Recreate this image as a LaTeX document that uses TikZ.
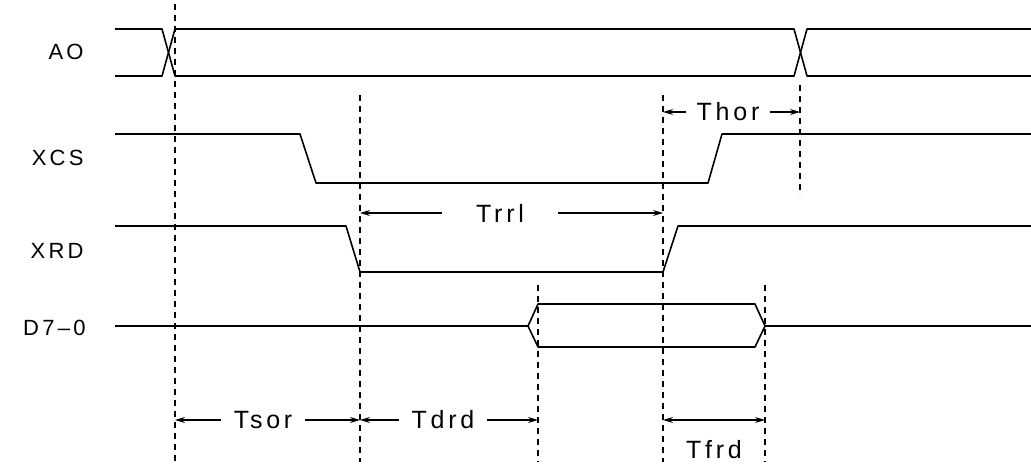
\documentclass[tikz,border=0pt]{standalone}
\usepackage{fontspec}
\setsansfont{Liberation Sans}[LetterSpace=15]
\usetikzlibrary{arrows.meta}

\begin{document}
\begin{tikzpicture}[x=0.5pt,y=-0.5pt,
  sig/.style={line width=0.8pt,line join=round},
  guide/.style={line width=0.6pt,dash pattern=on 3pt off 2.5pt},
  dim/.style={line width=0.6pt,-{Stealth[length=5pt,width=3pt]}},
  dimboth/.style={line width=0.6pt,{Stealth[length=5pt,width=3pt]}-{Stealth[length=5pt,width=3pt]}},
  lbl/.style={font=\sffamily\fontsize{11}{12}\selectfont,anchor=east,inner sep=0pt},
  tlbl/.style={font=\sffamily\fontsize{12.5}{14}\selectfont,inner ysep=0pt}]
\useasboundingbox (0,0) rectangle (1031,466);
\node[lbl] (ao) at (84,52) {AO};
\node[lbl] (xcs) at (84,158) {XCS};
\node[lbl] (xrd) at (84,251) {XRD};
\node[lbl] (d70) at (86,328) {D7–0};
\draw[sig] (115,29) -- (162,29) -- (175,76) -- (794,76) -- (807,29) -- (1031,29);
\draw[sig] (115,76) -- (162,76) -- (175,29) -- (794,29) -- (807,76) -- (1031,76);
\draw[sig] (115,134) -- (300,134) -- (316,183) -- (708,183) -- (722,134) -- (1031,134);
\draw[sig] (115,226) -- (346,226) -- (360,272) -- (663,272) -- (678,226) -- (1031,226);
\draw[sig] (115,326) -- (528,326) -- (538,304) -- (755,304) -- (765,326) -- (1031,326);
\draw[sig] (528,326) -- (538,347) -- (755,347) -- (765,326);
\foreach \n/\x/\t in {a/175/4,b/360/95,c/538/285,d/663/95,e/765/285}{
  \coordinate (\n) at (\x,462);
  \draw[guide] (\x,\t) -- (\n);
}
\coordinate (f) at (800,195);
\draw[guide] (800,85) -- (f);
\node[tlbl,inner xsep=5pt] (thor) at (728,112) {Thor};
\draw[dim] (thor.west) -- (thor -| d);
\draw[dim] (thor.east) -- (thor -| f);
\node[tlbl,inner xsep=17pt] (trrl) at (500,213) {Trrl};
\draw[dim] (trrl.west) -- (trrl -| b);
\draw[dim] (trrl.east) -- (trrl -| d);
\node[tlbl,inner xsep=6pt] (tsor) at (263,420) {Tsor};
\draw[dim] (tsor.west) -- (tsor -| a);
\draw[dim] (tsor.east) -- (tsor -| b);
\node[tlbl,inner xsep=6pt] (tdrd) at (443,420) {Tdrd};
\draw[dim] (tdrd.west) -- (tdrd -| b);
\draw[dim] (tdrd.east) -- (tdrd -| c);
\draw[dimboth] (d |- tsor) -- (e |- tsor);
\node[tlbl] (tfrd) at (714,450) {Tfrd};
\end{tikzpicture}
\end{document}
